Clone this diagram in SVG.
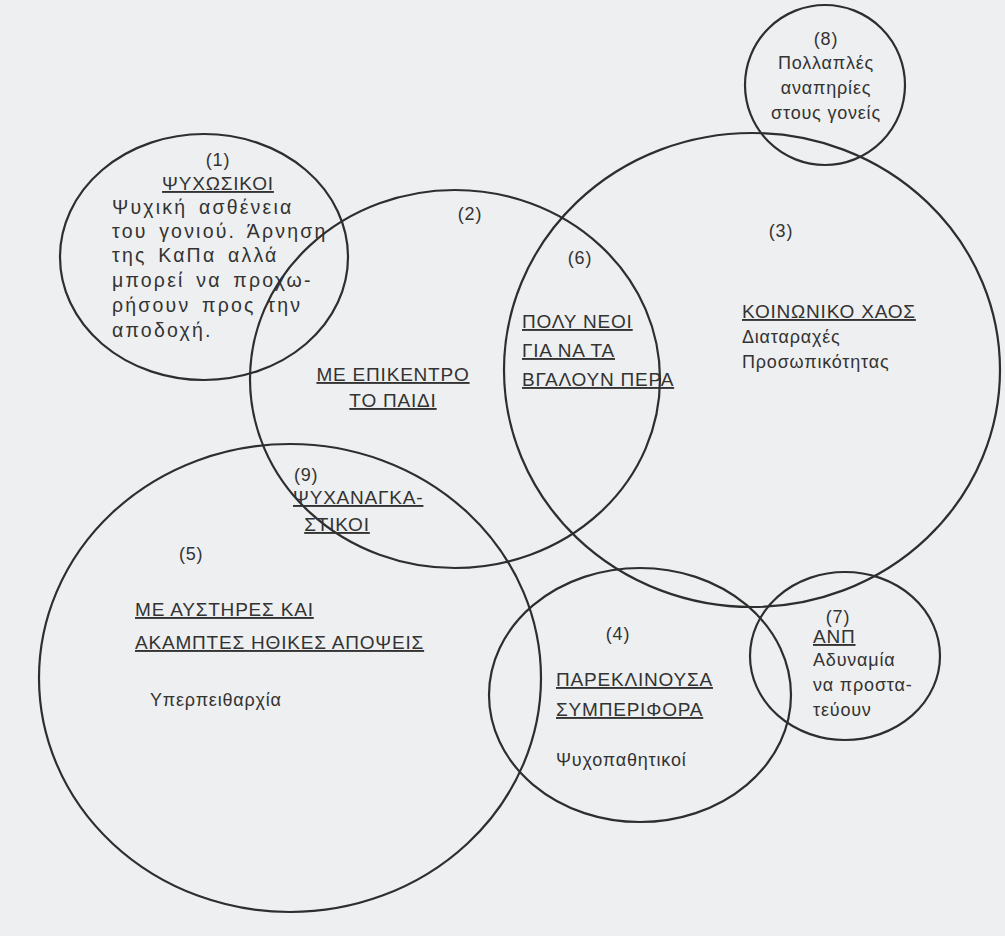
<svg xmlns="http://www.w3.org/2000/svg" width="1005" height="936" viewBox="0 0 1005 936">
<style>
.c{fill:none;stroke:#2e2e2e;stroke-width:2.2}
text{font-family:"Liberation Sans",Arial,sans-serif;font-size:18px;fill:#333;letter-spacing:0.8px}
.u{text-decoration:underline;font-size:19px}
.m{text-anchor:middle}
.b{font-size:19.5px;letter-spacing:2.2px;word-spacing:4px}
</style>
<rect width="1005" height="936" fill="#eeeff0"/>
<g id="n8">
<circle class="c" cx="825" cy="85" r="80"/>
<text class="m" x="826" y="45">(8)</text>
<text class="m" x="826" y="69">Πολλαπλές</text>
<text class="m" x="826" y="94">αναπηρίες</text>
<text class="m" x="826" y="119">στους γονείς</text>
</g>
<g id="n1">
<ellipse class="c" cx="204" cy="257" rx="144" ry="123"/>
<text class="m" x="218" y="166">(1)</text>
<text class="m u" x="218" y="190">ΨΥΧΩΣΙΚΟΙ</text>
<text class="b" x="112" y="214">Ψυχική ασθένεια</text>
<text class="b" x="112" y="238">του γονιού. Άρνηση</text>
<text class="b" x="112" y="262">της ΚαΠα αλλά</text>
<text class="b" x="112" y="287">μπορεί να προχω-</text>
<text class="b" x="112" y="312">ρήσουν προς την</text>
<text class="b" x="112" y="337">αποδοχή.</text>
</g>
<g id="n2">
<ellipse class="c" cx="455" cy="379" rx="205" ry="189"/>
<text class="m" x="470" y="220">(2)</text>
<text class="m u" x="393" y="381">ΜΕ ΕΠΙΚΕΝΤΡΟ</text>
<text class="m u" x="393" y="407">ΤΟ ΠΑΙΔΙ</text>
</g>
<g id="n3">
<ellipse class="c" cx="752" cy="370" rx="248" ry="237"/>
<text class="m" x="781" y="237">(3)</text>
<text class="u" x="742" y="318">ΚΟΙΝΩΝΙΚΟ ΧΑΟΣ</text>
<text x="742" y="343">Διαταραχές</text>
<text x="742" y="368">Προσωπικότητας</text>
</g>
<g id="n6">
<text class="m" x="580" y="264">(6)</text>
<text class="u" x="522" y="328">ΠΟΛΥ ΝΕΟΙ</text>
<text class="u" x="522" y="357">ΓΙΑ ΝΑ ΤΑ</text>
<text class="u" x="522" y="386">ΒΓΑΛΟΥΝ ΠΕΡΑ</text>
</g>
<g id="n5">
<ellipse class="c" cx="290" cy="678" rx="251" ry="234"/>
<text x="179" y="560">(5)</text>
<text class="u" x="135" y="616">ΜΕ ΑΥΣΤΗΡΕΣ ΚΑΙ</text>
<text class="u" x="135" y="649">ΑΚΑΜΠΤΕΣ ΗΘΙΚΕΣ ΑΠΟΨΕΙΣ</text>
<text x="150" y="706">Υπερπειθαρχία</text>
</g>
<g id="n9">
<text x="294" y="481">(9)</text>
<text class="u" x="293" y="504">ΨΥΧΑΝΑΓΚΑ-</text>
<text class="m u" x="337" y="531">ΣΤΙΚΟΙ</text>
</g>
<g id="n4">
<ellipse class="c" cx="640" cy="695" rx="151" ry="127"/>
<text class="m" x="618" y="640">(4)</text>
<text class="u" x="556" y="686">ΠΑΡΕΚΛΙΝΟΥΣΑ</text>
<text class="u" x="556" y="716">ΣΥΜΠΕΡΙΦΟΡΑ</text>
<text x="556" y="766">Ψυχοπαθητικοί</text>
</g>
<g id="n7">
<ellipse class="c" cx="845" cy="656" rx="95" ry="84"/>
<text class="m" x="838" y="623">(7)</text>
<text class="u" x="813" y="643">ΑΝΠ</text>
<text x="813" y="666">Αδυναμία</text>
<text x="813" y="691">να προστα-</text>
<text x="813" y="716">τεύουν</text>
</g>
</svg>
